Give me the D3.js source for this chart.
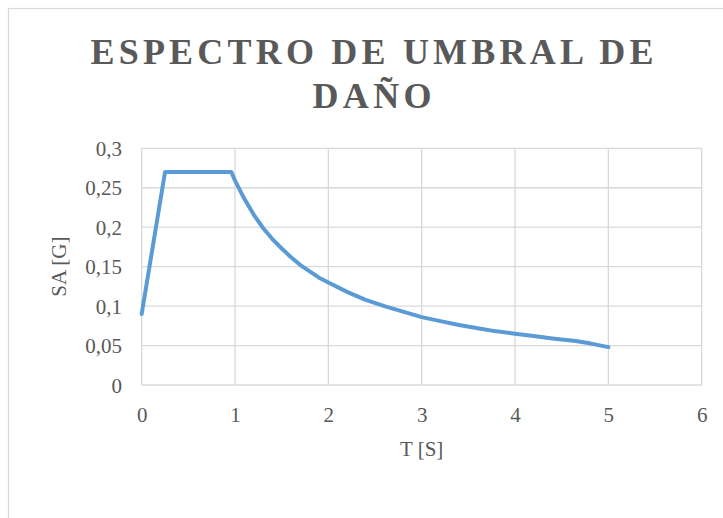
<!DOCTYPE html>
<html>
<head>
<meta charset="utf-8">
<script src="https://cdn.jsdelivr.net/npm/d3@7"></script>
<style>
  html, body { margin: 0; padding: 0; background: #fff; }
  svg { display: block; }
</style>
</head>
<body>
<svg id="chart" width="723" height="518"></svg>
<script>
// Data
const periods = [0, 0.25, 0.96, 1.0, 1.1, 1.2, 1.3, 1.4, 1.5, 1.6, 1.7, 1.8, 1.9, 2.0, 2.2, 2.4, 2.6, 2.8, 3.0, 3.2, 3.4, 3.6, 3.8, 4.0, 4.2, 4.4, 4.65, 4.8, 5.0];
const saValues = [0.09, 0.27, 0.27, 0.259, 0.236, 0.216, 0.199, 0.185, 0.173, 0.162, 0.152, 0.144, 0.136, 0.130, 0.118, 0.108, 0.100, 0.093, 0.086, 0.081, 0.076, 0.072, 0.068, 0.065, 0.062, 0.059, 0.0557, 0.0528, 0.048];
const xTicks = [0, 1, 2, 3, 4, 5, 6];
const yTicks = [0, 0.05, 0.1, 0.15, 0.2, 0.25, 0.3];
const titleLines = ["ESPECTRO DE UMBRAL DE", "DAÑO"];
const xTitle = "T [S]";
const yTitle = "SA [G]";

(function () {
const svg = d3.select("#chart");
const textColor = "#595959";
const gridColor = "#d9d9d9";
const font = "'Liberation Serif', 'Times New Roman', serif";

// chart border
svg.append("rect")
  .attr("x", 8.5).attr("y", 8.5)
  .attr("width", 740).attr("height", 540)
  .attr("fill", "#fff").attr("stroke", gridColor).attr("stroke-width", 1.2);

const pLeft = 141.7, pRight = 701.7, pTop = 148.3, pBottom = 385;
const x = d3.scaleLinear().domain([0, 6]).range([pLeft, pRight]);
const y = d3.scaleLinear().domain([0, 0.3]).range([pBottom, pTop]);

// grid
svg.append("g").selectAll("line").data(xTicks).join("line")
  .attr("x1", d => x(d)).attr("x2", d => x(d))
  .attr("y1", pTop).attr("y2", pBottom)
  .attr("stroke", gridColor).attr("stroke-width", 1.3);
svg.append("g").selectAll("line").data(yTicks).join("line")
  .attr("x1", pLeft).attr("x2", pRight)
  .attr("y1", d => y(d)).attr("y2", d => y(d))
  .attr("stroke", gridColor).attr("stroke-width", 1.3);

const fmt = d => String(+d.toFixed(2)).replace(".", ",");

// axes (labels only, via d3 axis)
const xAxis = d3.axisBottom(x).tickValues(xTicks).tickSize(0).tickPadding(0).tickFormat(fmt);
const gx = svg.append("g").attr("transform", `translate(0,${pBottom})`).call(xAxis);
gx.select(".domain").remove();
gx.selectAll("text").attr("dy", null).attr("y", 37)
  .attr("fill", textColor).style("font-family", font).style("font-size", "21px");

const yAxis = d3.axisLeft(y).tickValues(yTicks).tickSize(0).tickPadding(0).tickFormat(fmt);
const gy = svg.append("g").attr("transform", `translate(122,0)`).call(yAxis);
gy.select(".domain").remove();
gy.selectAll("text").attr("x", 0).attr("dy", "0.34em")
  .attr("fill", textColor).style("font-family", font).style("font-size", "21px");

// line
const line = d3.line().x((d, i) => x(periods[i])).y(d => y(d));
svg.append("path")
  .datum(saValues)
  .attr("d", line)
  .attr("fill", "none")
  .attr("stroke", "#5B9BD5")
  .attr("stroke-width", 4)
  .attr("stroke-linejoin", "round")
  .attr("stroke-linecap", "round");

// titles (letter-spaced bold serif)
const titleWidths = [563, 119];
svg.append("g").selectAll("text").data(titleLines).join("text")
  .attr("x", 372).attr("y", (d, i) => 64 + i * 43.5)
  .attr("text-anchor", "middle")
  .attr("textLength", (d, i) => titleWidths[i])
  .attr("lengthAdjust", "spacing")
  .attr("fill", textColor)
  .style("font-family", font).style("font-weight", "bold")
  .style("font-size", "36px")
  .text(d => d);

svg.append("text")
  .attr("x", x(3)).attr("y", 456)
  .attr("text-anchor", "middle").attr("fill", textColor)
  .style("font-family", font).style("font-size", "21px")
  .text(xTitle);

svg.append("text")
  .attr("transform", `translate(66,${(pTop + pBottom) / 2}) rotate(-90)`)
  .attr("text-anchor", "middle").attr("fill", textColor)
  .style("font-family", font).style("font-size", "21px")
  .text(yTitle);
})();
</script>
</body>
</html>
